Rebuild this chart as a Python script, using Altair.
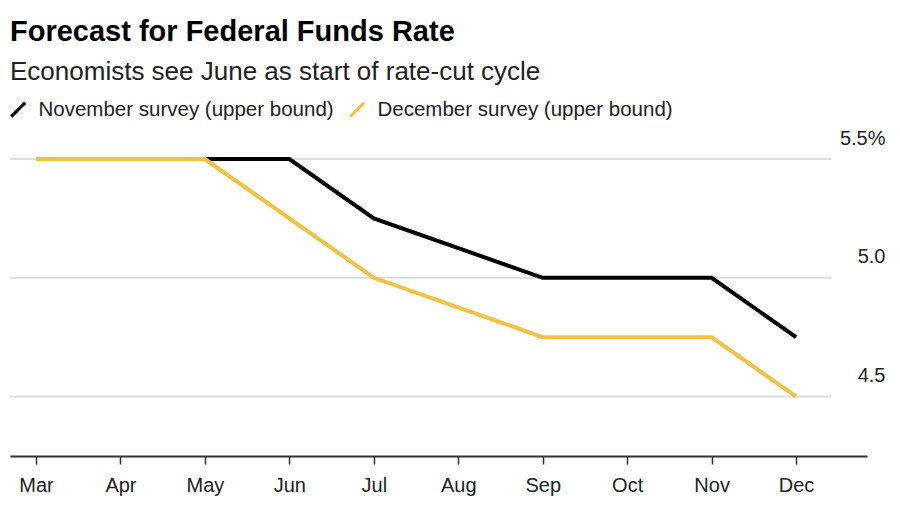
import altair as alt
import pandas as pd

month_labels = ["Mar", "Apr", "May", "Jun", "Jul", "Aug", "Sep", "Oct", "Nov", "Dec"]
month_ticks = [3, 4, 5, 6, 7, 8, 9, 10, 11, 12]

meeting_months = [3, 5, 6, 7, 9, 11, 12]
november = [5.5, 5.5, 5.5, 5.25, 5.0, 5.0, 4.75]
december = [5.5, 5.5, 5.25, 5.0, 4.75, 4.75, 4.5]

series_names = ["November survey (upper bound)", "December survey (upper bound)"]
series_colors = ["#000000", "#f4c23f"]

y_ticks = [4.5, 5.0, 5.5]

rows = []
for m, v in zip(meeting_months, november):
    rows.append({"month": m, "rate": v, "series": series_names[0]})
for m, v in zip(meeting_months, december):
    rows.append({"month": m, "rate": v, "series": series_names[1]})
df = pd.DataFrame(rows)
grid_df = pd.DataFrame({"rate": y_ticks})

label_map = "{" + ",".join(f"'{t}':'{l}'" for t, l in zip(month_ticks, month_labels)) + "}"

W, H = 857, 297
x_scale = alt.Scale(domain=[2.692, 12.84], nice=False, zero=False)
y_scale = alt.Scale(domain=[4.25, 5.5], nice=False, zero=False)

FONT = "Liberation Sans"

y_axis = alt.Axis(
    orient="right",
    values=y_ticks,
    labelExpr="datum.value == 5.5 ? '5.5%' : format(datum.value, '.1f')",
    title=None,
    grid=False,
    domain=False,
    ticks=False,
    labelAlign="right",
    labelBaseline="alphabetic",
    labelPadding=18,
    labelOffset=-15,
    labelFontSize=20,
    labelColor="#222222",
    labelFont=FONT,
)

grid = alt.Chart(grid_df).mark_rule(color="#dddddd", strokeWidth=2).encode(
    y=alt.Y("rate:Q", scale=y_scale, axis=y_axis),
    x=alt.value(0),
    x2=alt.value(821),
)

lines = alt.Chart(df).mark_line(strokeWidth=4, strokeJoin="miter").encode(
    x=alt.X(
        "month:Q",
        scale=x_scale,
        axis=alt.Axis(
            values=month_ticks,
            labelExpr=f"{label_map}[datum.value]",
            title=None,
            grid=False,
            domainColor="#333333",
            domainWidth=2,
            tickColor="#333333",
            tickWidth=1.5,
            tickSize=8,
            labelFontSize=20,
            labelColor="#222222",
            labelFont=FONT,
            labelPadding=11,
        ),
    ),
    y=alt.Y("rate:Q", scale=y_scale, axis=y_axis),
    color=alt.Color(
        "series:N",
        scale=alt.Scale(domain=series_names, range=series_colors),
        sort=series_names,
        legend=alt.Legend(
            orient="none",
            legendX=-2,
            legendY=-60,
            direction="horizontal",
            title=None,
            symbolType="M-1,1L1,-1",
            symbolSize=196,
            symbolStrokeWidth=3,
            labelFontSize=20.5,
            labelFont=FONT,
            labelColor="#222222",
            labelLimit=500,
            columnPadding=10,
            labelOffset=10,
        ),
    ),
    detail="series:N",
)

chart = (
    alt.layer(grid, lines)
    .properties(
        width=W,
        height=H,
        background="white",
        padding={"left": 0, "top": 10, "right": 0, "bottom": 5},
        title=alt.TitleParams(
            text="Forecast for Federal Funds Rate",
            subtitle="Economists see June as start of rate-cut cycle",
            anchor="start",
            dx=2,
            font=FONT,
            fontSize=29,
            fontWeight="bold",
            color="#000000",
            subtitleFont=FONT,
            subtitleFontSize=26,
            subtitleColor="#222222",
            subtitlePadding=12,
            offset=14,
        ),
    )
    .configure_view(strokeWidth=0, stroke="transparent")
)

chart.save("out.html", embed_options={"renderer": "svg", "actions": False})
